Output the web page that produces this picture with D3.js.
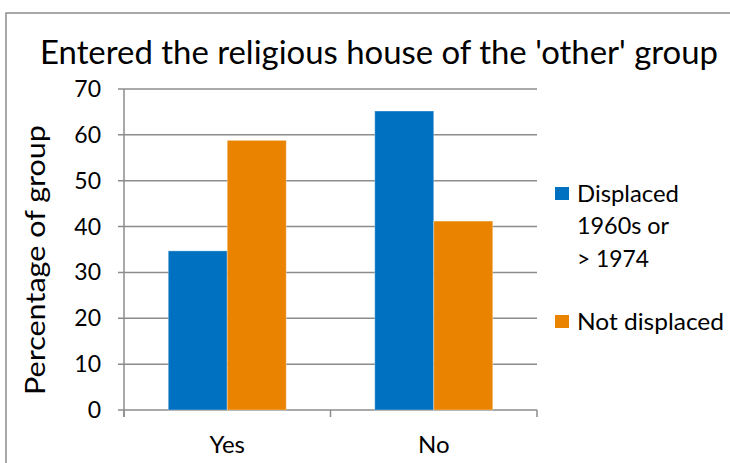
<!DOCTYPE html>
<html><head><meta charset="utf-8">
<script src="https://cdn.jsdelivr.net/npm/d3@7"></script>
<style>body{margin:0;background:#fff}svg{display:block}text{font-family:Lato,"Open Sans",sans-serif;fill:#000}</style>
</head><body><svg id="c" width="730" height="463"></svg>
<script>
const categories = ["Yes", "No"];
const seriesNames = ["Displaced 1960s or > 1974", "Not displaced"];
const displaced = [34.7, 65.2];
const notDisplaced = [58.8, 41.2];
const yTicks = [0, 10, 20, 30, 40, 50, 60, 70];
const colors = ["#0070C0", "#E98300"];
const title = "Entered the religious house of the 'other' group";
const yTitle = "Percentage of group";
const legendLines = [["Displaced", "1960s or", "> 1974"], ["Not displaced"]];

const svg = d3.select("#c");
const grid = "#8c8c8c";

// outer border
svg.append("path").attr("d", "M6,463 V13 H730").attr("fill", "none").attr("stroke", grid).attr("stroke-width", 1.5);

const x = d3.scaleBand().domain(categories).range([124, 537]);
const x1 = d3.scaleBand().domain(seriesNames).range([0, 118]);
const y = d3.scaleLinear().domain([0, 70]).range([410, 89]);
const groupOff = (x.bandwidth() - 118) / 2;

// gridlines
svg.append("g").selectAll("line").data(yTicks).join("line")
  .attr("x1", 118).attr("x2", 537).attr("y1", d => y(d)).attr("y2", d => y(d))
  .attr("stroke", grid).attr("stroke-width", 1.5);

// y axis line
svg.append("line").attr("x1", 124).attr("x2", 124).attr("y1", y(70)).attr("y2", 417)
  .attr("stroke", grid).attr("stroke-width", 1.5);
// category ticks
const bounds = [124, x("No"), 537];
svg.append("g").selectAll("line").data(bounds).join("line")
  .attr("x1", d => d).attr("x2", d => d).attr("y1", 410).attr("y2", 417)
  .attr("stroke", grid).attr("stroke-width", 1.5);

// bars
const series = [displaced, notDisplaced];
series.forEach((vals, si) => {
  svg.append("g").selectAll("rect").data(categories).join("rect")
    .attr("x", c => x(c) + groupOff + x1(seriesNames[si]))
    .attr("width", x1.bandwidth())
    .attr("y", (c, i) => y(vals[i]))
    .attr("height", (c, i) => y(0) - y(vals[i]))
    .attr("fill", colors[si])
    .attr("stroke", "#ffffff").attr("stroke-opacity", 0.35).attr("stroke-width", 1);
});

// y tick labels
svg.append("g").selectAll("text").data(yTicks).join("text")
  .attr("x", 101).attr("y", d => y(d) + 8).attr("text-anchor", "end")
  .attr("font-size", 23).text(d => d);

// x labels
svg.append("g").selectAll("text").data(categories).join("text")
  .attr("x", c => x(c) + x.bandwidth() / 2).attr("y", 453).attr("text-anchor", "middle")
  .attr("font-size", 24).text(d => d);

// title
svg.append("text").attr("x", 40).attr("y", 64).attr("font-size", 32)
  .attr("textLength", 678).attr("lengthAdjust", "spacingAndGlyphs").text(title);

// y title
svg.append("text").attr("transform", "translate(45,395) rotate(-90)")
  .attr("font-size", 26).attr("textLength", 270).attr("lengthAdjust", "spacingAndGlyphs").text(yTitle);

// legend
const legY = [[202, 234, 267], [330]];
const legW = [[102, 92, 72], [147]];
legendLines.forEach((lines, si) => {
  svg.append("rect").attr("x", 555).attr("y", legY[si][0] - 15).attr("width", 14).attr("height", 13)
    .attr("fill", colors[si]);
  lines.forEach((t, li) => {
    svg.append("text").attr("x", 577).attr("y", legY[si][li]).attr("font-size", 24)
      .attr("textLength", legW[si][li]).attr("lengthAdjust", "spacingAndGlyphs").text(t);
  });
});
</script></body></html>
